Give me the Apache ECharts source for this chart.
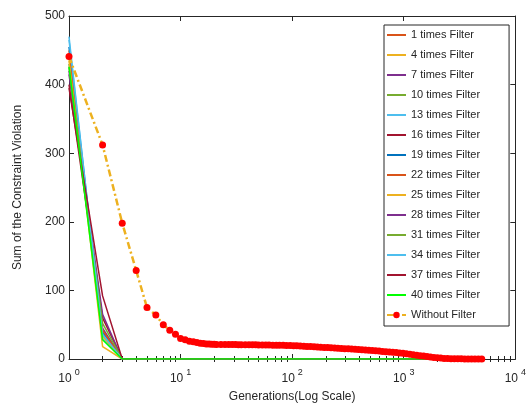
<!DOCTYPE html>
<html>
<head>
<meta charset="utf-8">
<script src="https://cdn.jsdelivr.net/npm/echarts@6.0.0/dist/echarts.min.js"></script>
<style>
  html, body { margin: 0; padding: 0; background: #fff; }
  #chart { width: 529px; height: 412px; }
</style>
</head>
<body>
<div id="chart"></div>
<script>
// filter runs: value at generation 1, at generation 2, then 0 from generation 3 on
const filterNames = ['1 times Filter', '4 times Filter', '7 times Filter', '10 times Filter',
  '13 times Filter', '16 times Filter', '19 times Filter', '22 times Filter', '25 times Filter',
  '28 times Filter', '31 times Filter', '34 times Filter', '37 times Filter', '40 times Filter'];
const filterColors = ['#D95319', '#EDB120', '#7E2F8E', '#77AC30', '#4DBEEE', '#A2142F', '#0072BD',
  '#D95319', '#EDB120', '#7E2F8E', '#77AC30', '#4DBEEE', '#A2142F', '#00FF00'];
const filterGens = [1, 2, 3, 5000];
const filterGen1 = [450, 440, 420, 430, 470, 400, 455, 445, 435, 415, 425, 465, 395, 426];
const filterGen2 = [35, 18, 45, 40, 30, 60, 38, 42, 33, 65, 52, 36, 92, 28];
const filterTail = [0, 0];

// run without filter
const woGens = [1, 2, 3, 4, 5, 6, 7, 8, 9, 10, 11, 12, 13, 14, 15, 16, 17, 18, 19, 20,
  21, 23, 25, 27, 29, 31, 33, 35, 38, 41, 44, 47, 50, 54, 58, 62, 67, 72, 77, 83,
  89, 96, 103, 110, 118, 127, 136, 146, 157, 168, 180, 194, 208, 223, 240, 257, 276, 296, 318, 341,
  366, 393, 422, 453, 486, 522, 560, 601, 645, 692, 743, 797, 856, 918, 985, 1057, 1135, 1218, 1307, 1403,
  1506, 1616, 1734, 1861, 1997, 2143, 2300, 2469, 2650, 2844, 3052, 3275, 3515, 3772, 4049, 4345, 4663, 5000];
const woValues = [441, 312, 198, 129, 75, 64, 50, 42, 36, 30, 28, 26, 25, 24, 23, 22.5, 22, 22, 21.5, 21.5,
  21, 21, 21, 21, 21, 21, 20.8, 20.8, 20.8, 20.7, 20.7, 20.6, 20.5, 20.5, 20.4, 20.3, 20.2, 20.1, 20, 19.9,
  19.8, 19.6, 19.4, 19.2, 19, 18.7, 18.4, 18.1, 17.8, 17.5, 17.2, 16.9, 16.6, 16.3, 16, 15.7, 15.4, 15.1, 14.8, 14.5,
  14.2, 13.9, 13.5, 13.1, 12.7, 12.3, 11.9, 11.5, 11.1, 10.7, 10.3, 9.8, 9.3, 8.8, 8.2, 7.6, 7, 6.3, 5.6, 4.9,
  4.2, 3.5, 2.9, 2.3, 1.8, 1.3, 0.9, 0.6, 0.4, 0.3, 0.2, 0.2, 0.1, 0.1, 0.1, 0.1, 0.1, 0.1];

const minorTicks = [2, 3, 4, 5, 6, 7, 8, 9, 20, 30, 40, 50, 60, 70, 80, 90,
  200, 300, 400, 500, 600, 700, 800, 900, 2000, 3000, 4000, 5000, 6000, 7000, 8000, 9000];

const ink = '#262626';
const font = 'Liberation Sans, Arial, sans-serif';

const chart = echarts.init(document.getElementById('chart'));

function logAxis(pos, opts) {
  return Object.assign({
    type: 'log', logBase: 10, min: 1, max: 10000, position: pos,
    axisLine: { show: true, onZero: false, lineStyle: { color: ink, width: 1 } },
    axisTick: { show: true, inside: true, length: 5, lineStyle: { color: ink } },
    axisLabel: { show: false },
    splitLine: { show: false },
    minorTick: { show: false }
  }, opts);
}

function minorAxis(pos) {
  return logAxis(pos, {
    axisLine: { show: false },
    axisTick: { show: true, inside: true, length: 3, customValues: minorTicks, lineStyle: { color: ink } }
  });
}

const series = filterNames.map((name, i) => ({
  name: name,
  type: 'line',
  symbol: 'none',
  color: filterColors[i],
  lineStyle: { width: 1.5, color: filterColors[i] },
  data: filterGens.map((g, k) => [g, [filterGen1[i], filterGen2[i]].concat(filterTail)[k]]),
  z: 2
}));

series.push({
  name: 'Without Filter',
  type: 'line',
  symbol: 'circle',
  symbolSize: 7,
  color: '#EDB120',
  itemStyle: { color: '#FF0000' },
  lineStyle: { width: 2.5, color: '#EDB120', type: [7, 3, 2, 3] },
  data: woGens.map((g, k) => [g, woValues[k]]),
  z: 5
});

// legend entries: plain line for filters, line + dot for the unfiltered run
const legendData = filterNames.map(n => ({ name: n, icon: 'path://M0,0H28V3H0Z' }));
legendData.push({ name: 'Without Filter' });

chart.setOption({
  animation: false,
  grid: { left: 69, right: 5, top: 16, bottom: 53 },
  legend: {
    orient: 'vertical',
    left: 384,
    top: 25,
    data: legendData,
    itemWidth: 19,
    itemHeight: 8,
    itemGap: 6,
    padding: [3, 29, 4, 2],
    borderColor: ink,
    borderWidth: 1,
    backgroundColor: '#fff',
    textStyle: { fontFamily: font, fontSize: 11, lineHeight: 14, color: ink }
  },
  xAxis: [
    logAxis('bottom', {
      name: 'Generations(Log Scale)',
      nameLocation: 'middle',
      nameGap: 32,
      nameTextStyle: { fontFamily: font, fontSize: 12, color: ink },
      axisLabel: {
        show: true,
        margin: 8,
        formatter: v => '{b|10}{e|' + Math.round(Math.log10(v)) + '}',
        rich: {
          b: { fontFamily: font, fontSize: 12, color: ink, padding: [6, 0, 0, 0] },
          e: { fontFamily: font, fontSize: 9, color: ink, padding: [0, 0, 6, 3] }
        }
      }
    }),
    minorAxis('bottom'),
    logAxis('top'),
    minorAxis('top')
  ],
  yAxis: [
    {
      type: 'value', min: 0, max: 500, interval: 100, position: 'left',
      name: 'Sum of the Constraint Violation',
      nameLocation: 'middle',
      nameGap: 45,
      nameTextStyle: { fontFamily: font, fontSize: 12, color: ink },
      axisLine: { show: true, lineStyle: { color: ink } },
      axisTick: { show: true, inside: true, length: 5, lineStyle: { color: ink } },
      axisLabel: { fontFamily: font, fontSize: 12, color: ink, margin: 4 },
      splitLine: { show: false }
    },
    {
      type: 'value', min: 0, max: 500, interval: 100, position: 'right',
      axisLine: { show: true, lineStyle: { color: ink } },
      axisTick: { show: true, inside: true, length: 5, lineStyle: { color: ink } },
      axisLabel: { show: false },
      splitLine: { show: false }
    }
  ],
  series: series
});
</script>
</body>
</html>
